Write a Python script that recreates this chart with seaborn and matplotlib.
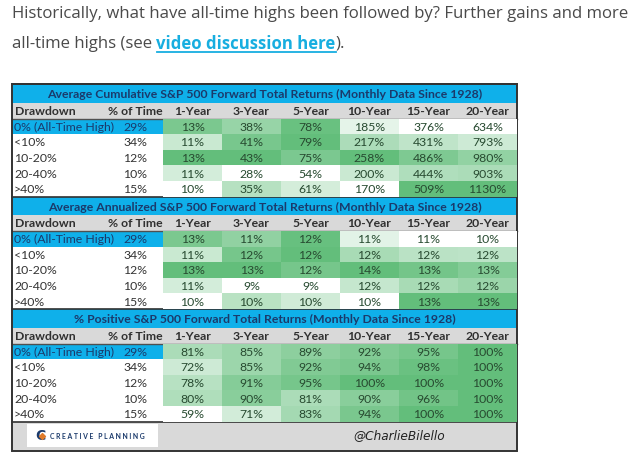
import numpy as np
import pandas as pd
import seaborn as sns
import matplotlib
matplotlib.use("Agg")
import matplotlib.pyplot as plt
from matplotlib.colors import LinearSegmentedColormap
from matplotlib.patches import Rectangle

# ---------------- data ----------------
drawdowns = ["0% (All-Time High)", "<10%", "10-20%", "20-40%", ">40%"]
pct_time = [29, 34, 12, 10, 15]
horizons = ["1-Year", "3-Year", "5-Year", "10-Year", "15-Year", "20-Year"]

cumulative = [
    [12.9, 38, 78, 185, 376, 634],
    [11.3, 41, 79, 217, 431, 793],
    [13.4, 43, 75, 258, 486, 980],
    [11.1, 28, 54, 200, 444, 903],
    [10.2, 35, 61, 170, 509, 1130],
]
annualized = [
    [12.9, 11.4, 12.2, 11.0, 11.0, 10.4],
    [11.3, 12.1, 12.3, 12.2, 11.8, 11.6],
    [13.4, 12.6, 11.9, 13.6, 12.6, 12.6],
    [11.1, 8.6, 9.0, 11.6, 12.0, 12.2],
    [10.2, 10.4, 10.0, 10.4, 12.8, 13.2],
]
positive = [
    [81, 85, 89, 92, 95, 100],
    [72, 85, 92, 94, 98, 100],
    [78, 91, 95, 100, 100, 100],
    [80, 90, 81, 90, 96, 100],
    [59, 71, 83, 94, 100, 100],
]
titles = [
    "Average Cumulative S&P 500 Forward Total Returns (Monthly Data Since 1928)",
    "Average Annualized S&P 500 Forward Total Returns (Monthly Data Since 1928)",
    "% Positive S&P 500 Forward Total Returns (Monthly Data Since 1928)",
]
intro_line1 = "Historically, what have all-time highs been followed by? Further gains and more"
intro_line2a = "all-time highs (see "
intro_link = "video discussion here"
intro_line2b = ")."

# ---------------- style ----------------
W, H = 640, 460
CYAN = "#0fb0ea"
GRAY = "#d9d9d9"
NAVY = "#1b3a6b"
GREEN = "#63BE7B"
TXT_GREEN = "#274a30"
FONT = "Lato"
FS = 8.8
cmap = LinearSegmentedColormap.from_list("wg", ["#ffffff", GREEN])

fig = plt.figure(figsize=(W / 100, H / 100), dpi=100)
fig.patch.set_facecolor("white")
bg = fig.add_axes([0, 0, 1, 1])
bg.set_xlim(0, W)
bg.set_ylim(H, 0)
bg.axis("off")

renderer = fig.canvas.get_renderer()


def fit(t, width):
    w = t.get_window_extent(renderer).width
    t.set_fontsize(t.get_fontsize() * width / w)


def px_axes(x0, y0, x1, y1):
    return fig.add_axes([x0 / W, 1 - y1 / H, (x1 - x0) / W, (y1 - y0) / H])


# intro text
INTRO_C = "#4a4a4a"
LINK_C = "#17aee0"
t1 = bg.text(12, 14, intro_line1, fontsize=12, color=INTRO_C, family="Open Sans",
             va="center", ha="left")
fit(t1, 616)
fs_intro = t1.get_fontsize()
t2 = bg.text(12, 44, intro_line2a, fontsize=fs_intro, color=INTRO_C, family="Open Sans",
             va="center", ha="left")
bb = t2.get_window_extent(renderer)
x_link = bb.x1
t3 = bg.text(x_link, 44, intro_link, fontsize=fs_intro, color=LINK_C, family="Open Sans",
             fontweight="bold", va="center", ha="left")
bb3 = t3.get_window_extent(renderer)
bg.plot([bb3.x0, bb3.x1], [53, 53], color=LINK_C, lw=1.3)
bg.text(bb3.x1, 44, intro_line2b, fontsize=fs_intro, color=INTRO_C, family="Open Sans",
        va="center", ha="left")

# table geometry
X0, X1 = 12, 517
XD = 163
col_w = (X1 - XD) / len(horizons)
TITLE_H, HEAD_H, ROW_H = 18.5, 16.0, 15.6
sec_tops = [85.0]
for _ in range(2):
    sec_tops.append(sec_tops[-1] + TITLE_H + HEAD_H + 5 * ROW_H)
footer_top = sec_tops[-1] + TITLE_H + HEAD_H + 5 * ROW_H
footer_bot = 452

tables = [cumulative, annualized, positive]
scales = ["col", "col", "all"]

for k, (top, title, vals, sc) in enumerate(zip(sec_tops, titles, tables, scales)):
    # title bar
    bg.add_patch(Rectangle((X0, top), X1 - X0, TITLE_H, facecolor=CYAN, edgecolor="none"))
    tt = bg.text((X0 + X1) / 2, top + TITLE_H / 2 + 0.5, title, color=NAVY, family=FONT,
                 fontweight="bold", fontsize=9, ha="center", va="center")
    fit(tt, 436 if k < 2 else 384)
    # header
    hy = top + TITLE_H
    bg.add_patch(Rectangle((X0, hy), X1 - X0, HEAD_H, facecolor=GRAY, edgecolor="none"))
    bg.text(X0 + 3, hy + HEAD_H / 2, "Drawdown", color="#303030", family=FONT,
            fontweight="bold", fontsize=FS, ha="left", va="center")
    bg.text(135, hy + HEAD_H / 2, "% of Time", color="#303030", family=FONT,
            fontweight="bold", fontsize=FS, ha="center", va="center")
    for j, h in enumerate(horizons):
        bg.text(XD + col_w * (j + 0.5), hy + HEAD_H / 2, h, color="#303030", family=FONT,
                fontweight="bold", fontsize=FS, ha="center", va="center")
    ry = hy + HEAD_H
    bg.plot([X0, X1], [ry, ry], color="#505050", lw=1.0)
    bg.plot([X0, X1], [top, top], color="#303030", lw=1.2)
    # left columns
    bg.add_patch(Rectangle((X0, ry), XD - X0, ROW_H, facecolor=CYAN, edgecolor="none"))
    for i, (d, p) in enumerate(zip(drawdowns, pct_time)):
        yc = ry + ROW_H * (i + 0.5)
        bg.text(X0 + 2, yc, d, color=NAVY if i == 0 else "#333333", family=FONT,
                fontsize=FS, ha="left", va="center")
        bg.text(135, yc, f"{p}%", color=NAVY if i == 0 else "#333333", family=FONT,
                fontsize=FS, ha="center", va="center")
    # heatmap of data cells
    arr = np.array(vals, dtype=float)
    if sc == "col":
        norm = (arr - arr.min(axis=0)) / (arr.max(axis=0) - arr.min(axis=0))
    else:
        norm = (arr - arr.min()) / (arr.max() - arr.min())
    labels = np.array([[f"{v:.0f}%" for v in row] for row in arr])
    df = pd.DataFrame(norm, index=drawdowns, columns=horizons)
    ax = px_axes(XD, ry, X1, ry + 5 * ROW_H)
    sns.heatmap(df, ax=ax, cmap=cmap, vmin=0, vmax=1, cbar=False, annot=labels, fmt="",
                annot_kws=dict(color=TXT_GREEN, fontsize=FS, family=FONT),
                xticklabels=False, yticklabels=False, linewidths=0)
    ax.axis("off")

# footer
bg.add_patch(Rectangle((X0, footer_top), X1 - X0, footer_bot - footer_top,
                       facecolor=GRAY, edgecolor="none"))
bg.plot([X0, X1], [footer_top, footer_top], color="#303030", lw=1.2)
bg.add_patch(Rectangle((27, 425), 131, 23, facecolor="white", edgecolor="none"))
bg.text(40, 436.5, "C", color=NAVY, family="DejaVu Sans", fontweight="bold",
        fontsize=10, ha="center", va="center")
bg.scatter([41.5], [436.5], marker="D", s=9, color="#e07b2a", zorder=5)
ft = bg.text(50, 436.5, "C R E A T I V E   P L A N N I N G", color=NAVY, family=FONT,
             fontweight="bold", fontsize=6, ha="left", va="center")
fit(ft, 97)
ct = bg.text(399, 436, "@CharlieBilello", color="#222222", family="DejaVu Sans",
             style="italic", fontsize=9, ha="center", va="center")
fit(ct, 92)

# outer border
bg.add_patch(Rectangle((X0, 85), X1 - X0, footer_bot - 85, facecolor="none",
                       edgecolor="#333333", lw=1.4, zorder=10))

fig.savefig("out.png", dpi=100)
